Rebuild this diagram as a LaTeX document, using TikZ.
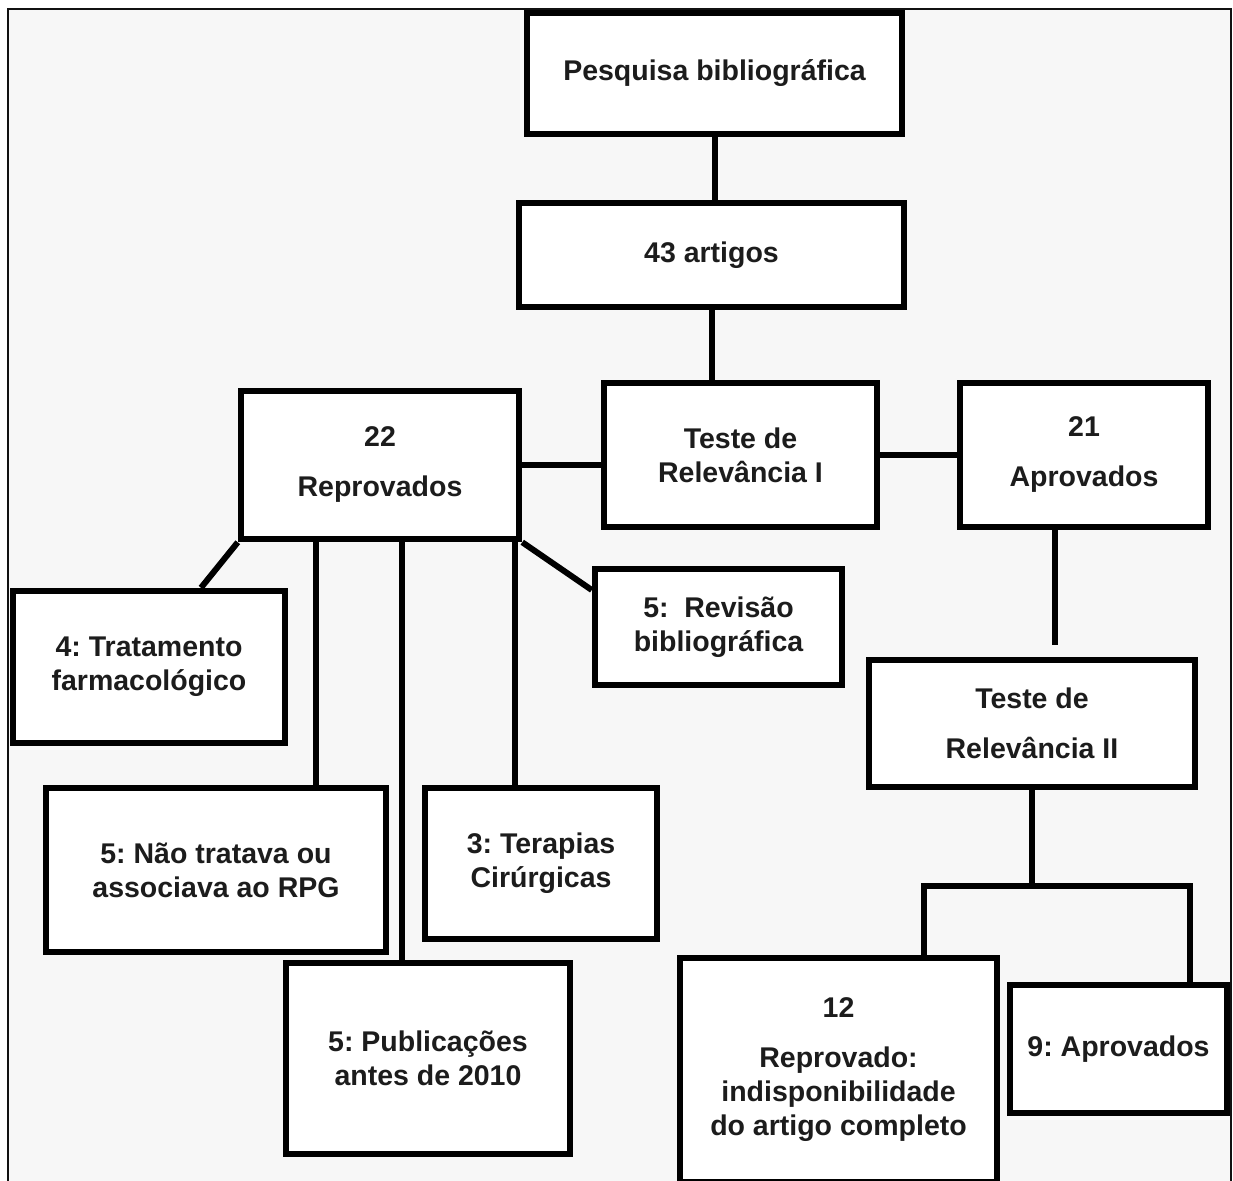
\documentclass[tikz,border=0pt]{standalone}
\usepackage{fontspec}
\setmainfont{Liberation Sans}
\frenchspacing
\usepackage{xcolor}
\definecolor{fluxInk}{HTML}{1C1C1C}
\definecolor{fluxPaper}{HTML}{F7F7F7}
\definecolor{fluxFrame}{HTML}{111111}
\usepackage{tikz}
\usetikzlibrary{positioning,calc}
\tikzset{
    stage/.style={
        draw=black,
        fill=white,
        rectangle,
        line width=6.5pt,
        align=center,
        inner sep=0pt,
        font=\bfseries\fontsize{28.5}{34}\selectfont,
        text=fluxInk
    },
    link/.style={
        line width=6pt,
        color=black
    },
    frame/.style={
        line width=2pt,
        draw=fluxFrame,
        fill=fluxPaper
    }
}

\begin{document}
\begin{tikzpicture}[x=1pt, y=-1pt]
    \useasboundingbox (0,0) rectangle (1233,1180);
    % Moldura
    \draw[frame] (8,9) rectangle (1231,1200);

    % Busca e triagem
    \node[stage, minimum width=375pt, minimum height=121pt] (pesquisa) at (714.5,73.5) {Pesquisa bibliográfica};
    \node[stage, minimum width=385pt, minimum height=104pt] (artigos) at (711.5,255) {43 artigos};
    \node[stage, minimum width=273pt, minimum height=144pt] (rel1) at (740.5,455) {Teste de\\Relevância I};
    \node[stage, minimum width=248pt, minimum height=144pt] (aprov) at (1084,455) {21\\[16pt]Aprovados};
    \node[stage, minimum width=278pt, minimum height=148pt] (reprov) at (380,465) {22\\[16pt]Reprovados};

    % Motivos de exclusao
    \node[stage, minimum width=272pt, minimum height=152pt] (farmaco) at (149,667) {4: Tratamento\\farmacológico};
    \node[stage, minimum width=247pt, minimum height=116pt] (revisao) at (718.5,627) {5:\ \ Revisão\\bibliográfica};
    \node[stage, minimum width=340pt, minimum height=164pt] (naorpg) at (216,870) {5: Não tratava ou\\associava ao RPG};
    \node[stage, minimum width=232pt, minimum height=151pt] (cirurg) at (541,863.5) {3: Terapias\\Cirúrgicas};
    \node[stage, minimum width=284pt, minimum height=191pt] (antes) at (428,1058.5) {5: Publicações\\antes de 2010};

    % Segunda triagem
    \node[stage, minimum width=326pt, minimum height=127pt] (rel2) at (1032,723.5) {Teste de\\[16pt]Relevância II};
    \node[stage, minimum width=317pt, minimum height=224pt] (indisp) at (838.5,1070) {12\\[16pt]Reprovado:\\indisponibilidade\\do artigo completo};
    \node[stage, minimum width=217pt, minimum height=128pt] (final) at (1118.5,1049) {9: Aprovados};

    % Ligacoes
    \draw[link] (pesquisa.south) -- (pesquisa.south |- artigos.north);
    \draw[link] (artigos.south) -- (artigos.south |- rel1.north);
    \draw[link] (reprov.east) -- (reprov.east -| rel1.west);
    \draw[link] (rel1) -- (aprov);
    \coordinate (rel2top) at ([xshift=23pt,yshift=12pt]rel2.north);
    \draw[link] (rel2top |- aprov.south) -- (rel2top);

    \draw[link] (reprov.south west) -- ([xshift=52pt]farmaco.north);
    \draw[link] ([xshift=-64pt]reprov.south) -- ([xshift=-64pt]reprov.south |- naorpg.north);
    \draw[link] ([xshift=22pt]reprov.south) -- ([xshift=22pt]reprov.south |- antes.north);
    \draw[link] ([xshift=135pt]reprov.south) -- ([xshift=135pt]reprov.south |- cirurg.north);
    \draw[link] (reprov.south east) -- ([yshift=37pt]revisao.west);

    \coordinate (split) at ([yshift=-96pt]rel2.south);
    \draw[link] (rel2.south) -- (split);
    \draw[link] ([xshift=85pt]indisp.north) |- (split) -| ([xshift=71pt]final.north);
\end{tikzpicture}
\end{document}
